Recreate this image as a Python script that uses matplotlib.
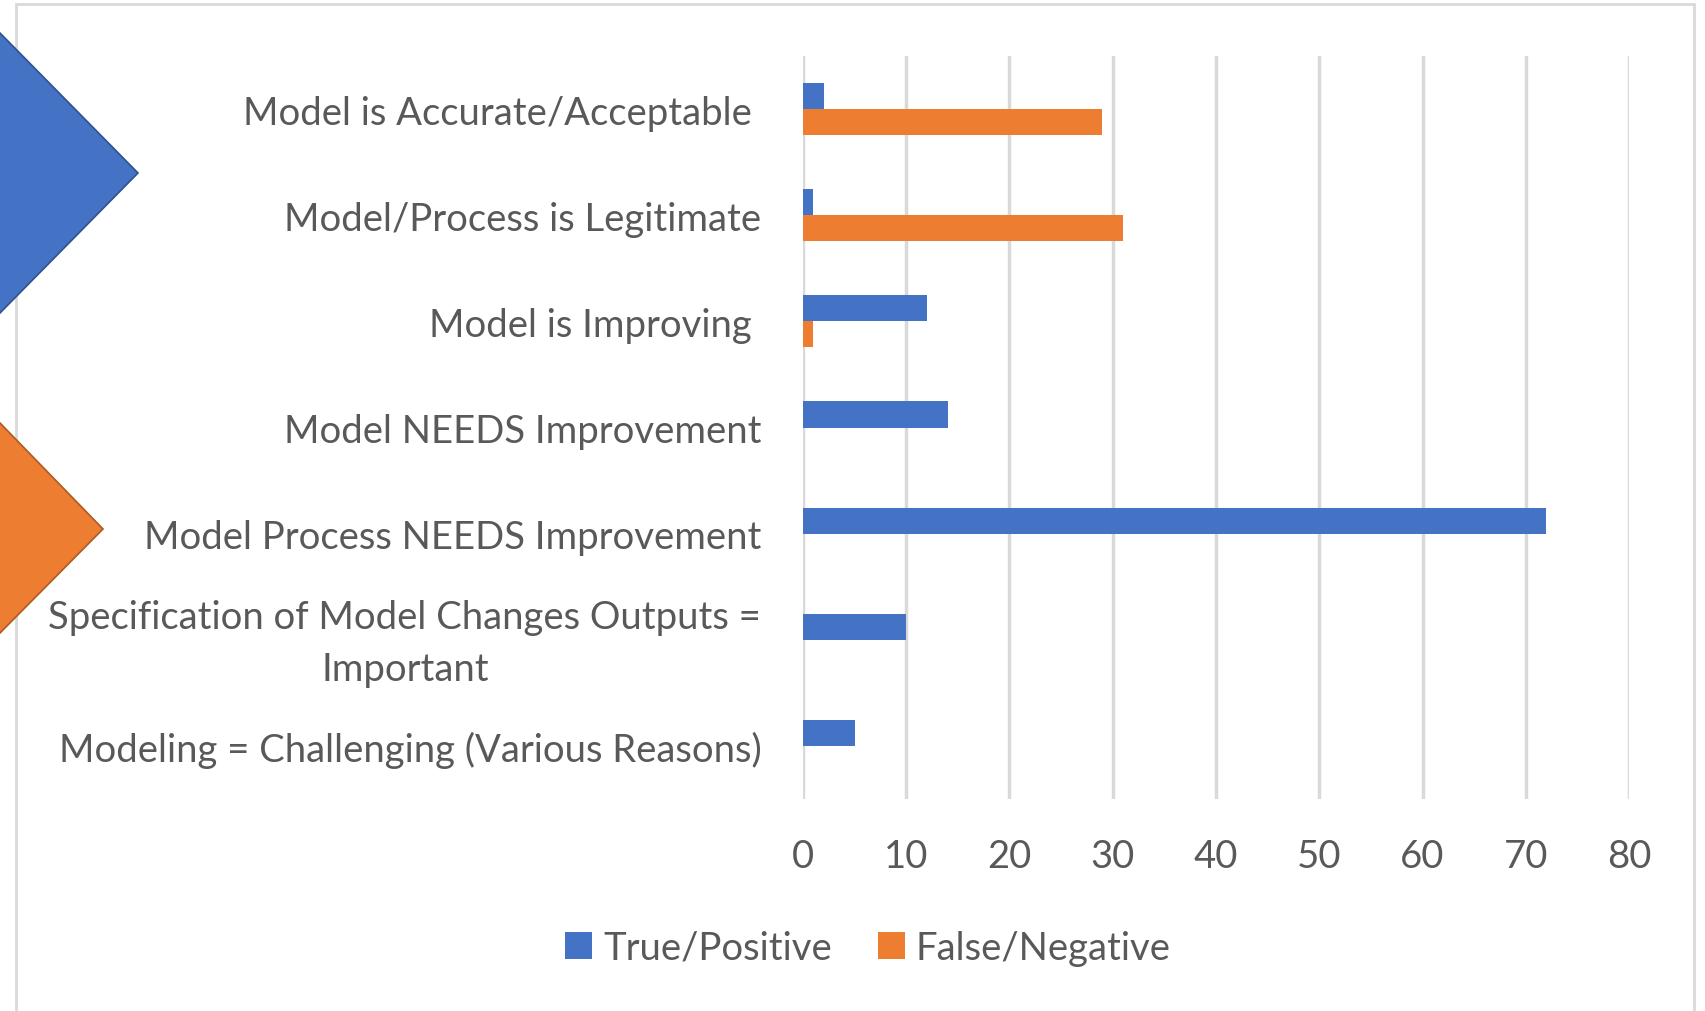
import numpy as np
import matplotlib
matplotlib.use("Agg")
import matplotlib.pyplot as plt
import matplotlib.transforms as mtransforms
from matplotlib.patches import Polygon, Rectangle

# data (top to bottom)
categories = [
    "Model is Accurate/Acceptable ",
    "Model/Process is Legitimate",
    "Model is Improving ",
    "Model NEEDS Improvement",
    "Model Process NEEDS Improvement",
    "Specification of Model Changes Outputs =\nImportant",
    "Modeling = Challenging (Various Reasons)",
]
true_positive = [2, 1, 12, 14, 72, 10, 5]
false_negative = [29, 31, 1, 0, 0, 0, 0]
x_ticks = [0, 10, 20, 30, 40, 50, 60, 70, 80]

BLUE = "#4472C4"
ORANGE = "#ED7D31"
TEXT = "#595959"
GRID = "#D9D9D9"
FS = 27.5

plt.rcParams["font.family"] = ["Lato", "DejaVu Sans"]

W, H = 1706, 1012
fig = plt.figure(figsize=(W / 100, H / 100), dpi=100)

def fx(px):
    return px / W

def fy(py):
    return 1 - py / H

# outer chart border
fig.add_artist(Rectangle((fx(16), fy(1030)), fx(1694 - 16), fy(5) - fy(1030),
                         transform=fig.transFigure, fill=False,
                         edgecolor=GRID, linewidth=2, zorder=0))

# decorative diamonds on the left edge
fig.add_artist(Polygon([(fx(-140), fy(174)), (fx(0), fy(34)), (fx(138), fy(174)), (fx(0), fy(314))],
                       closed=True, transform=fig.transFigure,
                       facecolor=BLUE, edgecolor="#2F528F", linewidth=1.2, zorder=1))
fig.add_artist(Polygon([(fx(-110), fy(530)), (fx(0), fy(424)), (fx(103), fy(530)), (fx(0), fy(634))],
                       closed=True, transform=fig.transFigure,
                       facecolor=ORANGE, edgecolor="#AE5A21", linewidth=1.2, zorder=1))

ax = fig.add_axes([fx(803), fy(800), fx(1629) - fx(803), fy(57) - fy(800)])
ax.set_zorder(2)
ax.patch.set_alpha(0)

y = np.arange(len(categories))
bh = 0.245
ax.barh(y - bh / 2, true_positive, height=bh, color=BLUE, label="True/Positive", zorder=3)
ax.barh(y + bh / 2, false_negative, height=bh, color=ORANGE, label="False/Negative", zorder=3)

ax.set_ylim(len(categories) - 0.5, -0.5)
ax.set_xlim(0, 80)
ax.set_xticks(x_ticks)
ax.set_yticks(y)
ax.set_yticklabels(categories, multialignment="center", linespacing=1.55)
ax.tick_params(axis="y", length=0, pad=30, labelsize=FS, labelcolor=TEXT)
ax.tick_params(axis="x", length=0, pad=28, labelsize=FS, labelcolor=TEXT)
ax.grid(axis="x", color=GRID, linewidth=2.5, zorder=0)
ax.set_axisbelow(True)
for s in ax.spines.values():
    s.set_visible(False)

# nudge the two-line label up so it sits centred on its bar
for lab in ax.get_yticklabels():
    if "\n" in lab.get_text():
        lab.set_transform(lab.get_transform() +
                          mtransforms.ScaledTranslation(0, 8 / 100, fig.dpi_scale_trans))

fig.legend(loc="center", bbox_to_anchor=(fx(868), fy(949)), ncol=2, frameon=False,
           fontsize=FS, labelcolor=TEXT, handlelength=0.7, handleheight=0.7,
           handletextpad=0.3, columnspacing=1.2)

fig.savefig("out.png", dpi=100)
